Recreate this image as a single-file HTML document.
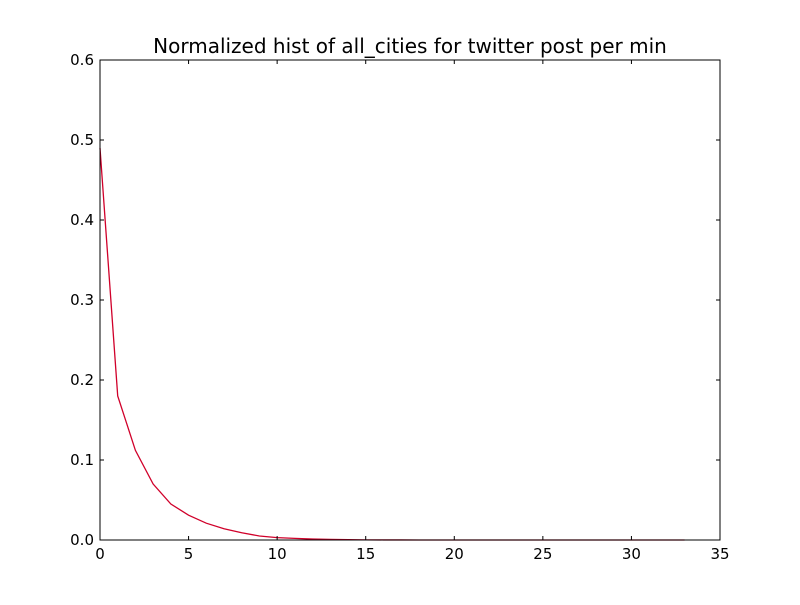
<!DOCTYPE html>
<html>
<head>
<meta charset="utf-8">
<style>
html,body{margin:0;padding:0;background:#fff;}
svg text{font-family:"DejaVu Sans","Liberation Sans",sans-serif;}
</style>
</head>
<body>
<svg id="chart" width="800" height="600" xmlns="http://www.w3.org/2000/svg">
<rect x="0" y="0" width="800" height="600" fill="#fff"/>
<text x="410" y="53" font-size="20" text-anchor="middle" fill="#000">Normalized hist of all_cities for twitter post per min</text>
<g id="plot"></g>
</svg>
<script>
const xValues = [0,1,2,3,4,5,6,7,8,9,10,11,12,13,14,15,16,17,18,19,20,21,22,23,24,25,26,27,28,29,30,31,32,33];
const yValues = [0.49,0.18,0.112,0.07,0.045,0.031,0.021,0.014,0.009,0.005,0.003,0.002,0.0012,0.0007,0.0004,0.0002,0.0001,0.0001,0,0,0,0,0,0,0,0,0,0,0,0,0,0,0,0];
const xTicks = [0,5,10,15,20,25,30,35];
const yTicks = [0.0,0.1,0.2,0.3,0.4,0.5,0.6];
const yTickLabels = ["0.0","0.1","0.2","0.3","0.4","0.5","0.6"];

const L=100,R=720,T=60,B=540;
const xMin=0,xMax=35,yMin=0,yMax=0.6;
function sx(v){return L+(v-xMin)/(xMax-xMin)*(R-L);}
function sy(v){return B-(v-yMin)/(yMax-yMin)*(B-T);}
const NS="http://www.w3.org/2000/svg";
const g=document.getElementById('plot');
function mk(tag,attrs){const e=document.createElementNS(NS,tag);for(const k in attrs)e.setAttribute(k,attrs[k]);g.appendChild(e);return e;}

const pts=xValues.map((x,i)=>sx(x)+","+sy(yValues[i])).join(" ");
const line=mk('polyline',{points:pts,fill:'none',stroke:'#d0002a','stroke-width':1.3});



const frame=mk('rect',{x:L,y:T,width:R-L,height:B-T,fill:'none',stroke:'#000','stroke-width':1});



xTicks.forEach(t=>{
  const x=sx(t);
  const a=mk('line',{x1:x,y1:B,x2:x,y2:B-4,stroke:'#000'});
  
  
  const b=mk('line',{x1:x,y1:T,x2:x,y2:T+4,stroke:'#000'});
  
  
  const tx=mk('text',{x:x,y:B+19,'font-size':15,'text-anchor':'middle'});
  tx.textContent=t;
  
  
});
yTicks.forEach((t,i)=>{
  const y=sy(t);
  const a=mk('line',{x1:L,y1:y,x2:L+4,y2:y,stroke:'#000'});
  
  
  const b=mk('line',{x1:R,y1:y,x2:R-4,y2:y,stroke:'#000'});
  
  
  const tx=mk('text',{x:L-6,y:y+5,'font-size':15,'text-anchor':'end'});
  tx.textContent=yTickLabels[i];
  
  
});
</script>
</body>
</html>
